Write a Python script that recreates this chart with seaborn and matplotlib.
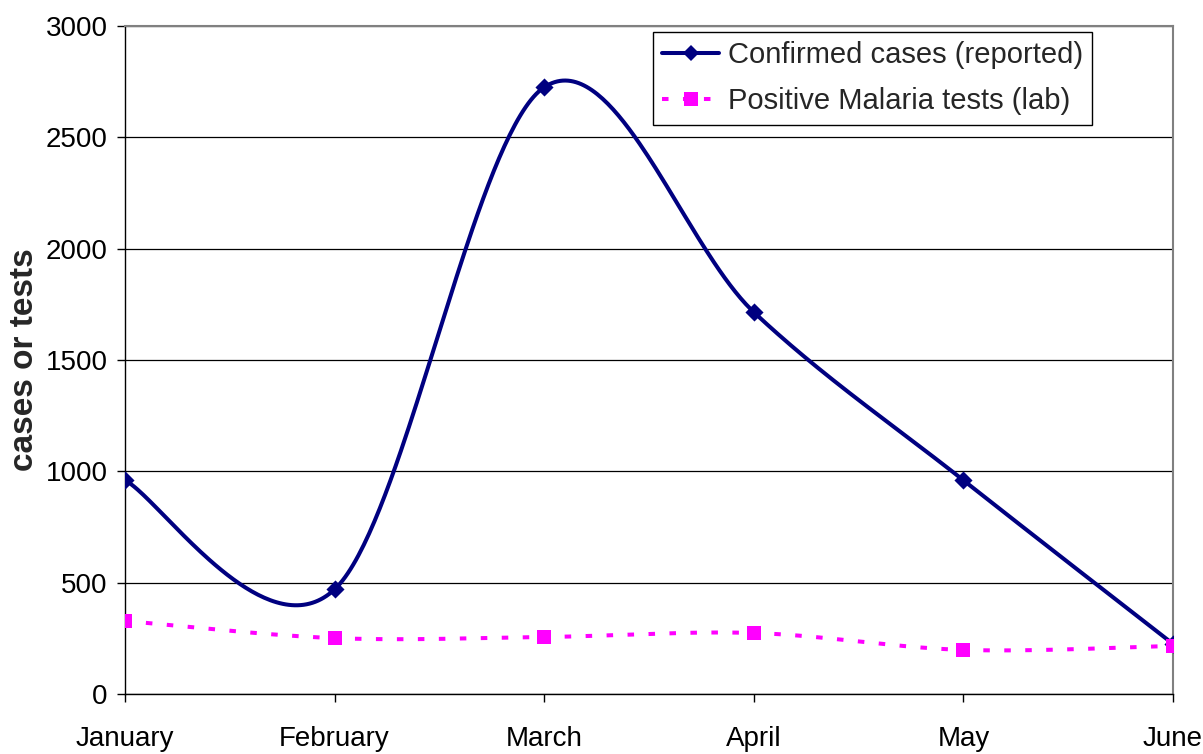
import numpy as np
import pandas as pd
import matplotlib
matplotlib.use("Agg")
import matplotlib.pyplot as plt
import seaborn as sns
from matplotlib.lines import Line2D

# ---- data ----
months = ["January", "February", "March", "April", "May", "June"]
confirmed = [960, 470, 2725, 1715, 960, 225]
positive = [328, 251, 256, 274, 198, 216]
series_names = ["Confirmed cases (reported)", "Positive Malaria tests (lab)"]
y_ticks = [0, 500, 1000, 1500, 2000, 2500, 3000]

NAVY = "#000080"
PINK = "#FF00FF"


def smooth(xs, ys, n=80):
    """Excel-like smoothed line: cubic Bezier with Catmull-Rom control points."""
    xs = np.asarray(xs, float)
    ys = np.asarray(ys, float)
    m = len(xs)
    out_x, out_y = [], []
    t = np.linspace(0, 1, n)
    for i in range(m - 1):
        a = i - 1 if i > 0 else i
        b = i + 2 if i + 2 < m else i + 1
        c1x = xs[i] + (xs[i + 1] - xs[a]) / 6
        c1y = ys[i] + (ys[i + 1] - ys[a]) / 6
        c2x = xs[i + 1] - (xs[b] - xs[i]) / 6
        c2y = ys[i + 1] - (ys[b] - ys[i]) / 6
        bx = (1 - t) ** 3 * xs[i] + 3 * (1 - t) ** 2 * t * c1x + 3 * (1 - t) * t ** 2 * c2x + t ** 3 * xs[i + 1]
        by = (1 - t) ** 3 * ys[i] + 3 * (1 - t) ** 2 * t * c1y + 3 * (1 - t) * t ** 2 * c2y + t ** 3 * ys[i + 1]
        if i > 0:
            bx, by = bx[1:], by[1:]
        out_x.extend(bx)
        out_y.extend(by)
    return np.array(out_x), np.array(out_y)


sns.set_style("ticks")
plt.rcParams["font.family"] = ["Liberation Sans", "DejaVu Sans"]
plt.rcParams["lines.scale_dashes"] = False

fig = plt.figure(figsize=(12.03, 7.54), dpi=100)
ax = fig.add_axes([125 / 1203, 60 / 754, 1048 / 1203, 668 / 754])

x = np.arange(len(months))

# smoothed curves
cx, cy = smooth(x, confirmed)
px_, py_ = smooth(x, positive)
df_c = pd.DataFrame({"x": cx, "y": cy})
df_p = pd.DataFrame({"x": px_, "y": py_})

DASH = (0, (4.7, 10.4))

sns.lineplot(data=df_c, x="x", y="y", sort=False, estimator=None, ax=ax,
             color=NAVY, linewidth=2.9, zorder=4)
sns.lineplot(data=df_p, x="x", y="y", sort=False, estimator=None, ax=ax,
             color=PINK, linewidth=2.9, zorder=3,
             linestyle=DASH, dash_capstyle="butt")

# markers
sns.scatterplot(x=x, y=confirmed, ax=ax, marker="D", s=85, color=NAVY,
                linewidth=0, zorder=5)
sns.scatterplot(x=x, y=positive, ax=ax, marker="s", s=112, color=PINK,
                linewidth=0, zorder=5)

ax.set_xlim(0, len(months) - 1)
ax.set_ylim(0, 3000)
ax.set_xticks(x)
ax.set_xticklabels(months)
ax.set_yticks(y_ticks)
ax.set_yticklabels([str(v) for v in y_ticks])
ax.set_xlabel("")
ax.set_ylabel("cases or tests", fontsize=24, fontweight="bold", labelpad=4)

ax.grid(axis="y", color="black", linewidth=0.9)
ax.grid(axis="x", visible=False)
ax.set_axisbelow(True)

for s in ["left", "bottom"]:
    ax.spines[s].set_color("black")
    ax.spines[s].set_linewidth(1.0)
for s in ["top", "right"]:
    ax.spines[s].set_visible(True)
    ax.spines[s].set_color("#808080")
    ax.spines[s].set_linewidth(1.5)

ax.tick_params(axis="y", direction="out", length=6, width=1, pad=6.5,
               labelsize=20, colors="black", right=False)
ax.tick_params(axis="x", direction="out", length=6, width=1, pad=17,
               labelsize=20, colors="black", top=False)

handles = [
    Line2D([0], [0], color=NAVY, linewidth=2.9, marker="D", markersize=8.5,
           markeredgewidth=0),
    Line2D([0], [0], color=PINK, linewidth=2.9, linestyle=DASH,
           marker="s", markersize=10.5, markeredgewidth=0),
]
leg = ax.legend(handles, series_names, loc="upper right",
                bbox_to_anchor=(0.9227, 0.991), borderaxespad=0,
                fontsize=21, frameon=True, fancybox=False, framealpha=1,
                edgecolor="black", handlelength=1.95, handletextpad=0.28,
                labelspacing=0.62, borderpad=0.32)
leg.get_frame().set_linewidth(1.0)
leg.set_zorder(10)

fig.savefig("out.png", dpi=100)
